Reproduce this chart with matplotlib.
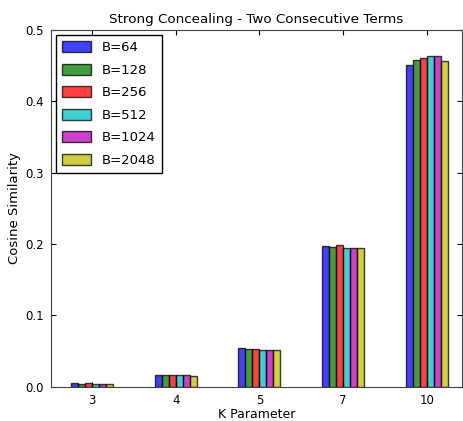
import matplotlib
matplotlib.use("Agg")
import matplotlib.pyplot as plt
import numpy as np

# DATA
k_values = ["3", "4", "5", "7", "10"]
batch_labels = ["B=64", "B=128", "B=256", "B=512", "B=1024", "B=2048"]
sim_b64 = [0.005, 0.017, 0.054, 0.197, 0.451]
sim_b128 = [0.004, 0.017, 0.053, 0.196, 0.458]
sim_b256 = [0.005, 0.017, 0.053, 0.199, 0.460]
sim_b512 = [0.004, 0.017, 0.051, 0.195, 0.463]
sim_b1024 = [0.004, 0.016, 0.051, 0.194, 0.464]
sim_b2048 = [0.004, 0.015, 0.051, 0.194, 0.457]
series = [sim_b64, sim_b128, sim_b256, sim_b512, sim_b1024, sim_b2048]
colors = ["b", "g", "r", "c", "m", "y"]

fig = plt.figure(figsize=(4.63, 4.21), dpi=100)
ax = fig.add_axes([0.110, 0.081, 0.888, 0.848])

x = np.arange(len(k_values))
width = 0.5 / len(series)
for i, (vals, col, lab) in enumerate(zip(series, colors, batch_labels)):
    ax.bar(x - 0.25 + i * width, vals, width, align="edge", color=col,
           alpha=0.75, edgecolor="black", linewidth=1.0, label=lab)

ax.set_xlim(-0.49, 4.42)
ax.set_ylim(0, 0.5)
ax.set_xticks(x)
ax.set_xticklabels(k_values)
ax.set_yticks(np.arange(0, 0.51, 0.1))
ax.tick_params(direction="in", top=True, right=True, labelsize=8.5, pad=5)
for s in ax.spines.values():
    s.set_color("#444444")
ax.set_xlabel("K Parameter", fontsize=9, labelpad=1)
ax.set_ylabel("Cosine Similarity", fontsize=9.5, labelpad=3)
ax.set_title("Strong Concealing - Two Consecutive Terms", fontsize=9.7, pad=5)

leg = ax.legend(loc="upper left", fontsize=9.5, fancybox=False, framealpha=1,
                edgecolor="black", handlelength=2.2, handleheight=0.9,
                borderpad=0.5, labelspacing=0.72, borderaxespad=0.35)

fig.savefig("out.png", dpi=100)
